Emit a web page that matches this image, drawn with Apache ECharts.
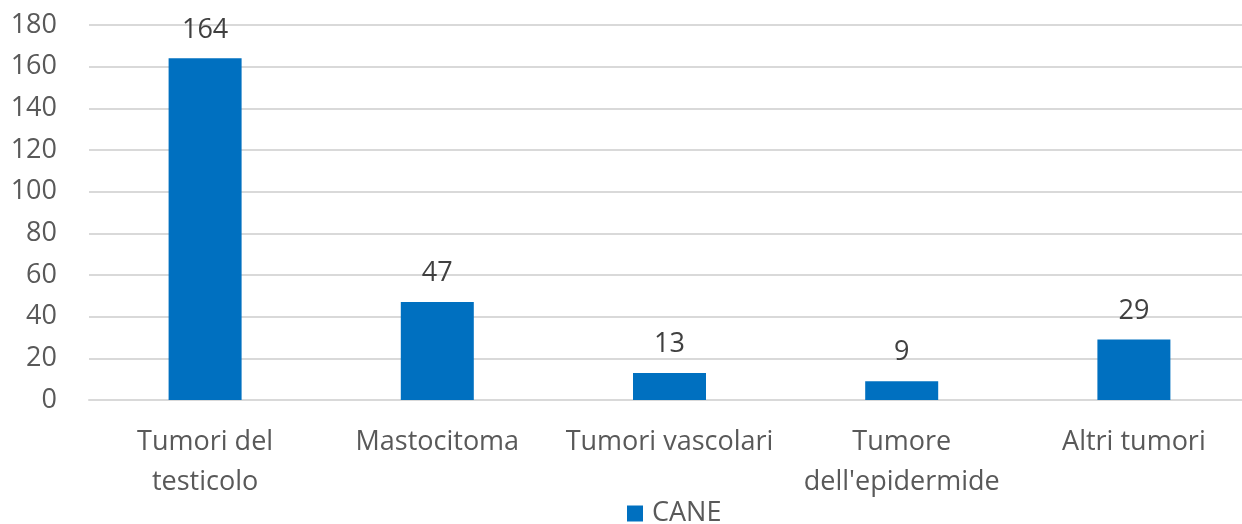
<!DOCTYPE html>
<html>
<head>
<meta charset="utf-8">
<script src="https://cdn.jsdelivr.net/npm/echarts@6/dist/echarts.min.js"></script>
<style>
  html, body { margin: 0; padding: 0; background: #fff; }
  #chart { width: 1242px; height: 524px; }
</style>
</head>
<body>
<div id="chart"></div>
<script>
  // categorie e valori
  var categories = ['Tumori del\ntesticolo', 'Mastocitoma', 'Tumori vascolari', 'Tumore\ndell\'epidermide', 'Altri tumori']
  var cane = [164, 47, 13, 9, 29]

  var chart = echarts.init(document.getElementById('chart'))
  var font = 'Open Sans'
  var option = {
    animation: false,
    textStyle: { fontFamily: font },
    grid: { left: 89, width: 1161, top: 25, height: 375, outerBoundsMode: 'none' },
    legend: {
      top: 495,
      left: 622,
      itemWidth: 16,
      itemHeight: 16,
      itemGap: 10,
      icon: 'rect',
      textStyle: { fontSize: 27, color: '#595959', fontFamily: font, padding: [0, 0, 0, 4] },
      data: ['CANE']
    },
    xAxis: {
      type: 'category',
      data: categories,
      axisLine: { show: true, lineStyle: { color: '#d9d9d9', width: 2 } },
      axisTick: { show: false },
      axisLabel: { fontSize: 27, color: '#595959', margin: 22, lineHeight: 40, interval: 0, fontFamily: font }
    },
    yAxis: {
      type: 'value',
      min: 0,
      max: 180,
      interval: 20,
      axisLine: { show: false },
      axisTick: { show: false },
      splitLine: { lineStyle: { color: '#d9d9d9', width: 2 } },
      axisLabel: { fontSize: 27, color: '#595959', margin: 32, fontFamily: font }
    },
    series: [{
      name: 'CANE',
      type: 'bar',
      data: cane,
      barWidth: 73,
      itemStyle: { color: '#0070c0' },
      label: { show: true, position: 'top', distance: 15, fontSize: 27, color: '#404040', fontFamily: font }
    }]
  }
  chart.setOption(option)
</script>
</body>
</html>
